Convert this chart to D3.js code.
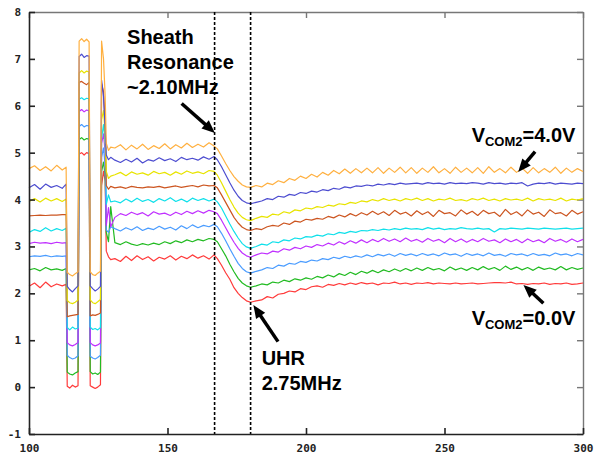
<!DOCTYPE html>
<meta charset="utf-8">
<style>

body {
  margin: 0;
  background: #fff;
}

svg {
  display: block;
}

.trace {
  fill: none;
  stroke-width: 1.2px;
  stroke-linejoin: round;
}

.axis text {
  font: bold 11px "DejaVu Sans Mono", monospace;
  fill: #222;
}

.frame path,
.frame line {
  stroke: #222;
  stroke-width: 1.6px;
}

.frame2 path,
.frame2 line {
  stroke: #777;
  stroke-width: 1.4px;
}

.marker {
  stroke: #000;
  stroke-width: 1.6px;
  stroke-dasharray: 3, 2;
}

.note {
  font: bold 20px "Liberation Sans", Arial, sans-serif;
  fill: #000;
}

.arrow {
  stroke: #000;
  stroke-width: 3.5px;
}

</style>
<svg width="595" height="454"></svg>
<script src="https://d3js.org/d3.v7.min.js"></script>
<script>

// frequency axis (shared by all traces)
var xs = [
  100, 102, 104, 106, 108, 110, 112, 113.4,
  113.8, 114.7, 115.7, 116.7, 117.7,
  118.1, 119, 119.9, 120.8, 121.7,
  122.1, 123, 123.9, 124.8, 125.8,
  126.2, 126.9, 127.5,
  127.9, 128.7, 129.5,
  131, 133, 135, 137, 139, 141, 143, 145, 147, 149, 151, 153, 155, 157, 159, 161, 163, 165, 166.8,
  168, 169.5, 171, 172.5, 174, 175.5, 177, 178.5, 180,
  182, 184, 186, 188, 190, 192, 194, 196, 198, 200,
  202, 204, 206, 208, 210, 212, 214, 216, 218, 220,
  222, 224, 226, 228, 230, 232, 234, 236, 238, 240,
  242, 244, 246, 248, 250, 252, 254, 256, 258, 260,
  262, 264, 266, 268, 270, 272, 274, 276, 278, 280,
  282, 284, 286, 288, 290, 292, 294, 296, 298, 300
];

var vcom00 = [
  2.15, 2.22, 2.12, 2.24, 2.14, 2.2, 2.16, 2.19,
  0.02, -0.02, 0.04, 0.0, 0.03,
  4.97, 5.0, 4.95, 5.0, 4.98,
  0.03, 0.0, -0.03, 0.0, 0.05,
  4.3, 4.6, 4.4,
  2.9, 2.78, 2.72,
  2.74, 2.68, 2.79, 2.7, 2.8, 2.72, 2.78, 2.69, 2.77, 2.73, 2.8, 2.71, 2.79, 2.74, 2.82, 2.75, 2.8, 2.73, 2.82,
  2.74, 2.6, 2.44, 2.3, 2.12, 2.0, 1.91, 1.84, 1.81,
  1.84, 1.86, 1.93, 1.90, 1.98, 2.00, 2.05, 2.03, 2.10, 2.08,
  2.14, 2.16, 2.13, 2.19, 2.17, 2.21, 2.18, 2.22, 2.19, 2.23,
  2.20, 2.22, 2.18, 2.22, 2.21, 2.24, 2.20, 2.22, 2.19, 2.22,
  2.21, 2.23, 2.20, 2.22, 2.21, 2.20, 2.22, 2.20, 2.21, 2.22,
  2.20, 2.21, 2.22, 2.23, 2.23, 2.22, 2.24, 2.20, 2.21, 2.19,
  2.21, 2.20, 2.22, 2.19, 2.21, 2.20, 2.22, 2.19, 2.20, 2.22
];

var vcom05 = [
  2.5, 2.53, 2.48, 2.55, 2.5, 2.52, 2.49, 2.53,
  0.32, 0.28, 0.26, 0.3, 0.33,
  5.28, 5.32, 5.27, 5.3, 5.29,
  0.33, 0.28, 0.3, 0.27, 0.32,
  4.6, 4.8, 4.5,
  3.3, 3.1, 3.85,
  3.08, 3.04, 3.1, 3.05, 3.02, 3.06, 3.03, 3.07, 3.04, 3.1, 3.06, 3.12, 3.08, 3.14, 3.1, 3.15, 3.12, 3.17, 3.15,
  3.1, 2.95, 2.8, 2.62, 2.46, 2.32, 2.22, 2.16, 2.13,
  2.16, 2.2, 2.18, 2.24, 2.22, 2.28, 2.25, 2.31, 2.28, 2.33,
  2.3, 2.36, 2.33, 2.39, 2.35, 2.42, 2.38, 2.45, 2.4, 2.47,
  2.43, 2.49, 2.44, 2.5, 2.46, 2.52, 2.47, 2.53, 2.48, 2.54,
  2.49, 2.55, 2.5, 2.53, 2.48, 2.56, 2.5, 2.54, 2.49, 2.55,
  2.5, 2.57, 2.51, 2.55, 2.49, 2.58, 2.51, 2.56, 2.5, 2.55,
  2.49, 2.56, 2.51, 2.54, 2.5, 2.57, 2.5, 2.55, 2.51, 2.54
];

var vcom10 = [
  2.78, 2.8, 2.79, 2.81, 2.78, 2.8, 2.79, 2.8,
  0.68, 0.63, 0.6, 0.62, 0.67,
  5.56, 5.6, 5.55, 5.58, 5.57,
  0.66, 0.62, 0.6, 0.63, 0.68,
  4.9, 5.1, 4.7,
  3.35, 3.3, 3.42,
  3.38, 3.33, 3.4, 3.35, 3.42, 3.34, 3.39, 3.36, 3.43, 3.37, 3.41, 3.35, 3.44, 3.38, 3.46, 3.4, 3.45, 3.42, 3.47,
  3.42, 3.28, 3.12, 2.95, 2.79, 2.64, 2.53, 2.46, 2.43,
  2.47, 2.5, 2.55, 2.53, 2.6, 2.58, 2.64, 2.62, 2.68, 2.66,
  2.71, 2.69, 2.74, 2.72, 2.77, 2.74, 2.79, 2.76, 2.8, 2.77,
  2.82, 2.78, 2.83, 2.8, 2.84, 2.79, 2.85, 2.81, 2.84, 2.8,
  2.85, 2.81, 2.84, 2.8, 2.86, 2.82, 2.84, 2.79, 2.85, 2.81,
  2.84, 2.8, 2.86, 2.81, 2.83, 2.79, 2.85, 2.82, 2.84, 2.8,
  2.85, 2.81, 2.83, 2.8, 2.86, 2.82, 2.84, 2.8, 2.85, 2.82
];

var vcom15 = [
  3.06, 3.09, 3.07, 3.08, 3.06, 3.09, 3.07, 3.08,
  0.95, 0.9, 0.88, 0.91, 0.95,
  5.88, 5.92, 5.87, 5.91, 5.89,
  0.95, 0.9, 0.88, 0.9, 0.94,
  5.2, 5.4, 5.0,
  3.45, 3.83, 3.42,
  3.62, 3.7, 3.66, 3.73, 3.68, 3.72, 3.65, 3.74, 3.69, 3.71, 3.66, 3.73, 3.68, 3.75, 3.7, 3.76, 3.71, 3.77, 3.74,
  3.7, 3.56, 3.4, 3.24, 3.09, 2.96, 2.86, 2.8, 2.77,
  2.82, 2.86, 2.84, 2.9, 2.88, 2.95, 2.92, 2.98, 2.95, 3.01,
  2.98, 3.04, 3.01, 3.07, 3.03, 3.1, 3.05, 3.12, 3.07, 3.14,
  3.08, 3.15, 3.1, 3.17, 3.11, 3.16, 3.1, 3.18, 3.11, 3.15,
  3.09, 3.17, 3.11, 3.15, 3.08, 3.17, 3.1, 3.16, 3.09, 3.15,
  3.1, 3.17, 3.11, 3.14, 3.08, 3.16, 3.1, 3.15, 3.08, 3.16,
  3.1, 3.14, 3.08, 3.17, 3.11, 3.15, 3.09, 3.16, 3.1, 3.15
];

var vcom20 = [
  3.3, 3.36, 3.32, 3.4, 3.33, 3.38, 3.34, 3.39,
  1.27, 1.22, 1.28, 1.24, 1.26,
  6.14, 6.17, 6.13, 6.16, 6.15,
  1.28, 1.23, 1.25, 1.22, 1.27,
  5.3, 5.6, 5.2,
  3.9, 4.1, 3.95,
  3.97, 3.93, 4.01, 3.95, 4.03, 3.96, 4.0, 3.94, 4.02, 3.97, 4.04, 3.96, 4.01, 3.95, 4.03, 3.98, 4.02, 3.97, 4.01,
  3.95, 3.82, 3.65, 3.48, 3.32, 3.18, 3.06, 2.99, 2.96,
  3.0, 3.05, 3.03, 3.1, 3.08, 3.14, 3.12, 3.18, 3.16, 3.21,
  3.2, 3.24, 3.22, 3.27, 3.25, 3.3, 3.28, 3.32, 3.3, 3.34,
  3.33, 3.36, 3.34, 3.37, 3.35, 3.38, 3.36, 3.39, 3.37, 3.38,
  3.36, 3.4, 3.37, 3.39, 3.36, 3.38, 3.37, 3.4, 3.38, 3.37,
  3.39, 3.37, 3.38, 3.31, 3.38, 3.37, 3.39, 3.38, 3.37, 3.39,
  3.38, 3.37, 3.39, 3.38, 3.37, 3.38, 3.39, 3.37, 3.38, 3.39
];

var vcom25 = [
  3.65, 3.66, 3.67, 3.66, 3.67, 3.67, 3.68, 3.68,
  1.5, 1.52, 1.53, 1.54, 1.55,
  6.5, 6.52, 6.48, 6.45, 6.5,
  1.52, 1.54, 1.53, 1.55, 1.58,
  6.47, 6.3, 5.6,
  4.3, 4.22, 4.28,
  4.25, 4.27, 4.24, 4.28, 4.26, 4.25, 4.27, 4.26, 4.28, 4.25, 4.27, 4.29, 4.26, 4.28, 4.3, 4.27, 4.31, 4.29, 4.3,
  4.25, 4.1, 3.94, 3.78, 3.62, 3.5, 3.41, 3.36, 3.34,
  3.38, 3.36, 3.42, 3.45, 3.43, 3.5, 3.47, 3.54, 3.52, 3.58,
  3.56, 3.6, 3.58, 3.64, 3.61, 3.67, 3.63, 3.7, 3.65, 3.72,
  3.67, 3.75, 3.68, 3.74, 3.66, 3.77, 3.69, 3.73, 3.65, 3.76,
  3.68, 3.74, 3.64, 3.77, 3.7, 3.72, 3.65, 3.78, 3.69, 3.75,
  3.66, 3.77, 3.7, 3.73, 3.64, 3.79, 3.68, 3.74, 3.65, 3.78,
  3.69, 3.73, 3.64, 3.78, 3.7, 3.72, 3.65, 3.77, 3.69, 3.74
];

var vcom30 = [
  3.96, 4.02, 3.95, 4.03, 3.97, 4.02, 3.96, 4.01,
  1.85, 1.8, 1.78, 1.81, 1.86,
  6.7, 6.75, 6.7, 6.74, 6.72,
  1.86, 1.8, 1.78, 1.82, 1.87,
  5.7, 5.9, 5.4,
  4.6, 4.45, 4.5,
  4.53, 4.58, 4.51, 4.59, 4.54, 4.57, 4.52, 4.6, 4.55, 4.58, 4.52, 4.59, 4.54, 4.61, 4.56, 4.59, 4.55, 4.62, 4.6,
  4.52, 4.36, 4.18, 4.0, 3.84, 3.71, 3.62, 3.57, 3.55,
  3.6, 3.64, 3.62, 3.69, 3.67, 3.74, 3.71, 3.78, 3.76, 3.82,
  3.8, 3.85, 3.83, 3.88, 3.86, 3.91, 3.89, 3.94, 3.92, 3.97,
  3.95, 4.0, 3.97, 4.02, 3.98, 4.01, 3.97, 4.02, 3.99, 4.03,
  3.98, 4.02, 3.97, 4.01, 3.99, 4.03, 3.98, 4.0, 3.97, 4.02,
  3.99, 4.03, 3.98, 4.01, 3.97, 4.02, 3.99, 4.01, 3.98, 4.03,
  3.97, 4.02, 3.99, 4.01, 3.98, 4.03, 3.97, 4.01, 3.99, 4.02
];

var vcom35 = [
  4.25, 4.32, 4.22, 4.33, 4.26, 4.3, 4.24, 4.33,
  2.15, 2.08, 2.03, 2.1, 2.16,
  7.05, 7.1, 7.03, 7.07, 7.06,
  2.16, 2.1, 2.05, 2.09, 2.15,
  6.55, 6.2, 5.5,
  4.95, 4.85, 4.9,
  4.84, 4.79, 4.86, 4.8, 4.88, 4.78, 4.85, 4.82, 4.89, 4.83, 4.87, 4.81, 4.9, 4.85, 4.88, 4.84, 4.91, 4.86, 4.92,
  4.85, 4.7, 4.53, 4.36, 4.2, 4.07, 3.98, 3.93, 3.91,
  3.94, 3.97, 4.02, 4.0, 4.07, 4.05, 4.11, 4.09, 4.15, 4.13,
  4.18, 4.16, 4.21, 4.19, 4.24, 4.22, 4.27, 4.25, 4.29, 4.28,
  4.31, 4.29, 4.33, 4.31, 4.34, 4.32, 4.35, 4.33, 4.34, 4.35,
  4.33, 4.36, 4.34, 4.35, 4.33, 4.36, 4.34, 4.35, 4.34, 4.36,
  4.35, 4.33, 4.36, 4.34, 4.35, 4.33, 4.35, 4.34, 4.36, 4.29,
  4.33, 4.35, 4.34, 4.36, 4.33, 4.35, 4.34, 4.33, 4.35, 4.34
];

var vcom40 = [
  4.66, 4.72, 4.62, 4.7, 4.61, 4.73, 4.63, 4.69,
  2.45, 2.4, 2.37, 2.42, 2.46,
  7.38, 7.43, 7.37, 7.42, 7.36,
  2.46, 2.4, 2.38, 2.43, 2.47,
  7.38, 7.0, 6.2,
  5.2, 5.05, 5.12,
  5.1, 5.17, 5.06, 5.16, 5.08, 5.18, 5.07, 5.15, 5.09, 5.19, 5.08, 5.17, 5.1, 5.2, 5.11, 5.18, 5.12, 5.21, 5.14,
  5.08, 4.93, 4.77, 4.62, 4.49, 4.39, 4.31, 4.27, 4.26,
  4.3, 4.27, 4.35, 4.32, 4.4, 4.36, 4.45, 4.41, 4.5, 4.45,
  4.54, 4.48, 4.58, 4.52, 4.62, 4.55, 4.65, 4.56, 4.66, 4.57,
  4.67, 4.57, 4.68, 4.56, 4.67, 4.58, 4.69, 4.57, 4.68, 4.56,
  4.67, 4.58, 4.7, 4.57, 4.66, 4.56, 4.69, 4.58, 4.67, 4.57,
  4.68, 4.56, 4.7, 4.58, 4.66, 4.57, 4.69, 4.58, 4.67, 4.56,
  4.68, 4.57, 4.66, 4.58, 4.69, 4.56, 4.67, 4.58, 4.66, 4.6
];

var traces = [vcom00, vcom05, vcom10, vcom15, vcom20, vcom25, vcom30, vcom35, vcom40];
var traceColors = ["#ff3a3a", "#22bb22", "#4a9cff", "#c030ff", "#10e0ea",
                   "#cc5520", "#e8e400", "#4d4dd0", "#ffb040"];

var xTicks = [100, 150, 200, 250, 300];
var yTicks = [-1, 0, 1, 2, 3, 4, 5, 6, 7, 8];
var resonances = [167, 180]; // sheath resonance, UHR

var svg = d3.select("svg");

var x = d3.scaleLinear().domain([100, 300]).range([29, 583]);
var y = d3.scaleLinear().domain([-1, 8]).range([434, 12]);

var line = d3.line()
    .x(function(d) { return x(d[0]); })
    .y(function(d) { return y(d[1]); });

// top / right frame (grey)
svg.append("g")
    .attr("class", "axis frame2")
    .attr("transform", "translate(0," + y(8) + ")")
    .call(d3.axisTop(x).tickValues(xTicks).tickSize(-6).tickSizeOuter(0).tickFormat(""));

svg.append("g")
    .attr("class", "axis frame2")
    .attr("transform", "translate(" + x(300) + ",0)")
    .call(d3.axisRight(y).tickValues(yTicks).tickSize(-6).tickSizeOuter(0).tickFormat(""));

traces.forEach(function(vals, i) {
  svg.append("path")
      .datum(vals.map(function(v, j) { return [xs[j], v]; }))
      .attr("class", "trace")
      .style("stroke", traceColors[i])
      .attr("d", line);
});

svg.selectAll("line.marker")
    .data(resonances)
  .enter().append("line")
    .attr("class", "marker")
    .attr("x1", function(d) { return x(d); })
    .attr("x2", function(d) { return x(d); })
    .attr("y1", y(8))
    .attr("y2", y(-1));

svg.append("g")
    .attr("class", "axis frame")
    .attr("transform", "translate(0," + y(-1) + ")")
    .call(d3.axisBottom(x).tickValues(xTicks).tickSize(-6).tickSizeOuter(0).tickPadding(10)
      .tickFormat(function(d) { return String(d); }));

svg.append("g")
    .attr("class", "axis frame")
    .attr("transform", "translate(" + x(100) + ",0)")
    .call(d3.axisLeft(y).tickValues(yTicks).tickSize(-6).tickSizeOuter(0).tickPadding(8)
      .tickFormat(function(d) { return String(d); }));

svg.selectAll(".axis .domain").style("fill", "none");

// annotations
function arrow(x1, y1, x2, y2) {
  var a = Math.atan2(y2 - y1, x2 - x1), L = 13, W = 5.5;
  var bx = x2 - L * Math.cos(a), by = y2 - L * Math.sin(a);
  svg.append("line")
      .attr("class", "arrow")
      .attr("x1", x1).attr("y1", y1)
      .attr("x2", bx + 2 * Math.cos(a)).attr("y2", by + 2 * Math.sin(a));
  svg.append("path")
      .attr("d", "M" + x2 + "," + y2 +
                 "L" + (bx - W * Math.sin(a)) + "," + (by + W * Math.cos(a)) +
                 "L" + (bx + W * Math.sin(a)) + "," + (by - W * Math.cos(a)) + "Z")
      .style("fill", "#000");
}

var sheath = svg.append("text").attr("class", "note")
    .attr("x", x(135.4)).attr("y", y(7.32));
["Sheath", "Resonance", "~2.10MHz"].forEach(function(s, i) {
  sheath.append("tspan").attr("x", x(135.4)).attr("dy", i ? 25 : 0).text(s);
});
arrow(x(155.1), y(6.05), x(167.1), y(5.42));

var uhr = svg.append("text").attr("class", "note")
    .attr("x", x(184)).attr("y", y(0.47));
["UHR", "2.75MHz"].forEach(function(s, i) {
  uhr.append("tspan").attr("x", x(184)).attr("dy", i ? 25 : 0).text(s);
});
arrow(x(189.9), y(0.97), x(181), y(1.75));

function vcomLabel(vx, vy, val) {
  var t = svg.append("text").attr("class", "note").attr("x", x(vx)).attr("y", y(vy));
  t.append("tspan").text("V");
  t.append("tspan").attr("dy", 4).style("font-size", "13px").text("COM2");
  t.append("tspan").attr("dy", -4).text("=" + val);
}

vcomLabel(259.8, 5.23, "4.0V");
arrow(x(282.7), y(5.02), x(276.6), y(4.59));

vcomLabel(259.8, 1.32, "0.0V");
arrow(x(285.7), y(1.79), x(278.5), y(2.18));

</script>
